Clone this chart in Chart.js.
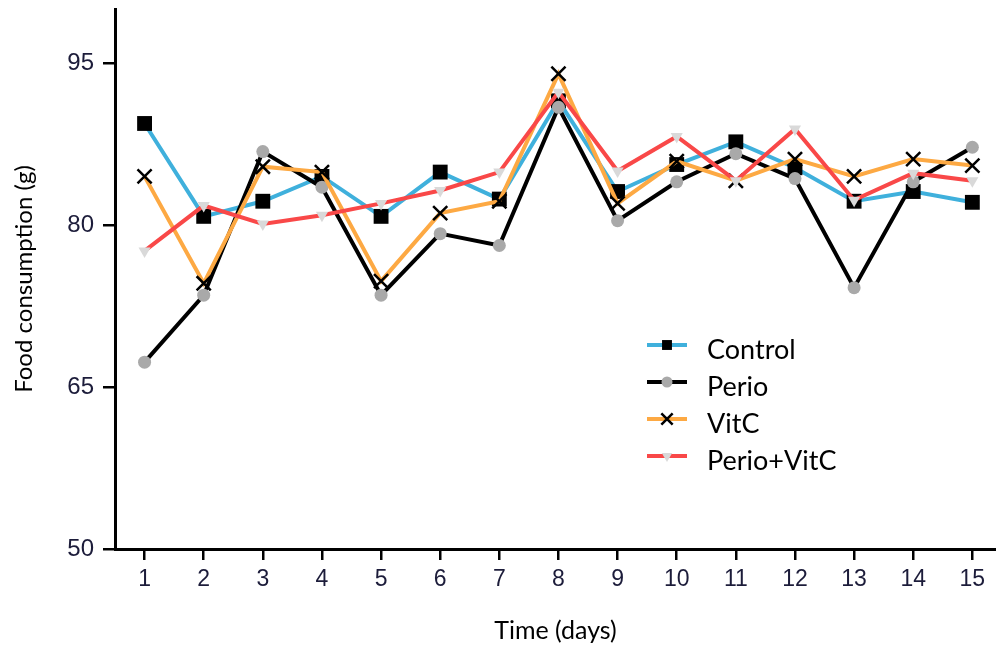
<!DOCTYPE html>
<html>
<head>
<meta charset="utf-8">
<script src="https://cdn.jsdelivr.net/npm/chart.js@4.4.1/dist/chart.umd.min.js"></script>
<style>
  html, body { margin: 0; padding: 0; background: #fff; overflow: hidden; }
</style>
</head>
<body>
<canvas id="foodChart" width="996" height="648"></canvas>
<script>
const days = [1, 2, 3, 4, 5, 6, 7, 8, 9, 10, 11, 12, 13, 14, 15];
const yTicks = [50, 65, 80, 95];

const control   = [89.4, 80.8, 82.2, 84.5, 80.8, 84.9, 82.4, 91.5, 83.1, 85.6, 87.7, 85.3, 82.2, 83.1, 82.1];
const perio     = [67.3, 73.5, 86.8, 83.5, 73.5, 79.2, 78.1, 90.9, 80.4, 84.0, 86.6, 84.3, 74.2, 84.0, 87.2];
const vitC      = [84.5, 74.6, 85.4, 84.9, 74.8, 81.1, 82.2, 94.0, 82.0, 85.9, 84.1, 86.1, 84.5, 86.1, 85.5];
const perioVitC = [77.6, 81.8, 80.1, 80.9, 82.0, 83.2, 84.9, 92.3, 85.0, 88.2, 84.1, 88.9, 82.3, 84.8, 84.1];

function pts(vals) {
  return vals.map((v, i) => ({ x: days[i], y: v }));
}

const series = [
  { label: 'Control', data: control, line: '#3fb0dc', fill: '#000', stroke: '#000',
    style: 'rect', radius: 10.5, legendRadius: 7, rotation: 0, bw: 0, order: 4 },
  { label: 'Perio', data: perio, line: '#000', fill: '#a9a9a9', stroke: '#a9a9a9',
    style: 'circle', radius: 6.5, legendRadius: 5.5, rotation: 0, bw: 0, order: 3 },
  { label: 'VitC', data: vitC, line: '#fda943', fill: '#000', stroke: '#000',
    style: 'crossRot', radius: 10, legendRadius: 8, rotation: 0, bw: 2.5, order: 2 },
  { label: 'Perio+VitC', data: perioVitC, line: '#f94848', fill: '#d9d9d9', stroke: '#d9d9d9',
    style: 'triangle', radius: 7, legendRadius: 6, rotation: 180, bw: 0, order: 1 }
];

// legend drawn inside the plot, lower right
const insideLegend = {
  id: 'insideLegend',
  afterDraw(chart) {
    const ctx = chart.ctx;
    const x0 = 647, x1 = 687, tx = 707;
    const rows = [345, 382, 419, 456];
    ctx.save();
    series.forEach((s, i) => {
      const y = rows[i];
      ctx.strokeStyle = s.line;
      ctx.lineWidth = 4;
      ctx.beginPath();
      ctx.moveTo(x0, y);
      ctx.lineTo(x1, y);
      ctx.stroke();
      ctx.fillStyle = s.fill;
      ctx.strokeStyle = s.stroke;
      ctx.lineWidth = s.bw || 1;
      Chart.helpers.drawPoint(ctx, {
        pointStyle: s.style, radius: s.legendRadius, rotation: s.rotation, borderWidth: s.bw
      }, (x0 + x1) / 2, y);
      ctx.fillStyle = '#000';
      ctx.font = '27px Lato';
      ctx.textBaseline = 'middle';
      ctx.textAlign = 'left';
      ctx.fillText(s.label, tx, y + 5);
    });
    ctx.restore();
  }
};

const tickColor = '#1c1c3a';

new Chart(document.getElementById('foodChart'), {
  type: 'line',
  data: {
    datasets: series.map(s => ({
      label: s.label,
      data: pts(s.data),
      borderColor: s.line,
      borderWidth: 4,
      backgroundColor: s.fill,
      pointStyle: s.style,
      pointRadius: s.radius,
      pointHoverRadius: s.radius,
      pointRotation: s.rotation,
      pointBackgroundColor: s.fill,
      pointBorderColor: s.stroke,
      pointBorderWidth: s.bw,
      tension: 0,
      clip: false,
      order: s.order
    }))
  },
  options: {
    responsive: false,
    animation: false,
    layout: { autoPadding: false, padding: { top: 9, right: 0, left: 0, bottom: 0 } },
    plugins: {
      legend: { display: false },
      tooltip: { enabled: false }
    },
    scales: {
      x: {
        type: 'linear',
        min: 0.5,
        max: 15.4,
        afterBuildTicks: s => { s.ticks = days.map(v => ({ value: v })); },
        afterFit: s => { s.height = 99; s.paddingLeft = 0; s.paddingRight = 0; },
        grid: { drawOnChartArea: false, drawTicks: true, tickLength: 11, color: '#000', lineWidth: 2.5 },
        border: { display: true, color: '#000', width: 3 },
        ticks: { color: tickColor, font: { family: 'Liberation Sans', size: 23 }, padding: 6, maxRotation: 0 },
        title: { display: true, text: 'Time (days)', color: '#000',
                 font: { family: 'Lato', size: 25 }, padding: { top: 0, bottom: 2 } }
      },
      y: {
        min: 50,
        max: 100,
        afterBuildTicks: s => { s.ticks = yTicks.map(v => ({ value: v })); },
        afterFit: s => { s.width = 115; s.paddingTop = 0; s.paddingBottom = 0; },
        grid: { drawOnChartArea: false, drawTicks: true, tickLength: 12, color: '#000', lineWidth: 2.5 },
        border: { display: true, color: '#000', width: 3 },
        ticks: { color: tickColor, font: { family: 'Liberation Sans', size: 24 }, padding: 9 },
        title: { display: true, text: 'Food consumption (g)', color: '#000',
                 font: { family: 'Lato', size: 24 }, padding: { top: 10, bottom: 0 } }
      }
    }
  },
  plugins: [insideLegend]
});
</script>
</body>
</html>
